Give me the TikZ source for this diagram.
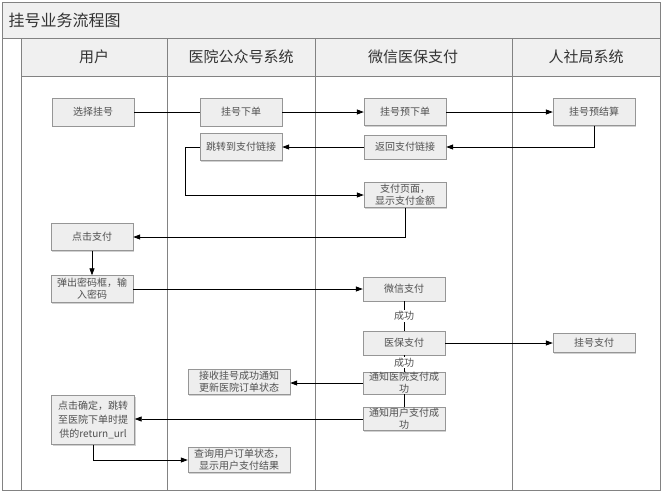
\documentclass[tikz,border=0pt]{standalone}
\usepackage{fontspec}
\setmainfont{Noto Sans CJK SC}
\usetikzlibrary{shadows,arrows.meta}
\definecolor{frame}{RGB}{130,130,130}
\definecolor{hdr}{RGB}{240,240,240}
\definecolor{boxfill}{RGB}{238,238,238}
\definecolor{boxline}{RGB}{150,150,150}
\definecolor{txt}{RGB}{80,80,80}
\tikzset{
  box/.style={draw=boxline, fill=boxfill, inner sep=0pt, text=txt, align=center,
    font=\fontsize{10}{12}\selectfont, minimum width=82pt, minimum height=25pt,
    drop shadow={shadow xshift=1.2pt, shadow yshift=-1.2pt, fill=black!30, opacity=0.6}},
  arr/.style={-{Triangle[length=7pt,width=5pt]}, line width=0.8pt},
  con/.style={line width=0.8pt},
  lbl/.style={fill=white, inner sep=1pt, text=txt, font=\fontsize{10}{12}\selectfont},
  lane/.style={draw=frame, line width=0.8pt},
  head/.style={text=black!80, font=\fontsize{15}{18}\selectfont}
}
\begin{document}
\begin{tikzpicture}[x=1pt,y=-1pt]
\useasboundingbox (0,0) rectangle (664,493);
% frame
\fill[hdr] (2,2) rectangle (660,38);
\fill[hdr] (21,38) rectangle (660,76);
\draw[lane] (2,2) rectangle (660,490);
\draw[lane] (2,38) -- (660,38);
\draw[lane] (21,76) -- (660,76);
\foreach \x in {21,167,315,512} \draw[lane] (\x,38) -- (\x,490);
\node[anchor=west, text=black!80, font=\fontsize{16}{19}\selectfont] (title) at (5,20) {挂号业务流程图};
\node[head] (h1) at (94,57) {用户};
\node[head] (h2) at (241,57) {医院公众号系统};
\node[head] (h3) at (413,57) {微信医保支付};
\node[head] (h4) at (586,57) {人社局系统};
% nodes
\node[box, minimum height=28pt] (n1) at (93,112) {选择挂号};
\node[box, minimum height=28pt] (n2) at (241,112) {挂号下单};
\node[box, minimum height=27pt] (n3) at (405,112) {挂号预下单};
\node[box, minimum height=27pt] (n4) at (594,112) {挂号预结算};
\node[box, minimum height=24pt] (n5) at (405,147) {返回支付链接};
\node[box, minimum height=27pt] (n6) at (241,147) {跳转到支付链接};
\node[box, minimum height=25pt] (n7) at (405,195) {支付页面，\\显示支付金额};
\node[box, minimum height=27pt] (n8) at (92,237) {点击支付};
\node[box, minimum height=27pt] (n9) at (92,289) {弹出密码框，输\\入密码};
\node[box, minimum height=24pt] (n10) at (404,289) {微信支付};
\node[box, minimum height=24pt] (n11) at (404,343) {医保支付};
\node[box, minimum height=19pt] (n12) at (594,343) {挂号支付};
\node[box, minimum width=102pt, minimum height=25pt] (n13) at (239,382) {接收挂号成功通知\\更新医院订单状态};
\node[box, minimum height=22pt] (n14) at (404,383) {通知医院支付成\\功};
\node[box, minimum height=23pt] (n15) at (404,419) {通知用户支付成\\功};
\node[box, minimum width=83pt, minimum height=49pt, font=\fontsize{10}{14}\selectfont] (n16) at (93,420) {点击确定，跳转\\至医院下单时提\\供的return\_url};
\node[box, minimum width=102pt, minimum height=25pt] (n17) at (239,460) {查询用户订单状态，\\显示用户支付结果};
% connectors
\draw[con] (n1) -- (n2);
\draw[arr] (n2) -- (n3);
\draw[arr] (n3) -- (n4);
\draw[arr] (n4.south) |- (n5.east);
\draw[arr] (n5) -- (n6);
\draw[arr] (n6.west) -- ++(-14,0) |- (n7.west);
\draw[arr] (n7.south) |- (n8.east);
\draw[arr] (n8) -- (n9);
\draw[arr] (n9) -- (n10);
\draw[con] (n10) -- node[lbl] {成功} (n11);
\draw[arr] (n11) -- (n12);
\draw[con] (n11) -- node[lbl, pos=0.45] {成功} (n14);
\draw[arr] (n14.west) -- (n14.west -| n13.east);
\draw[con] (n14) -- (n15);
\draw[arr] (n15.west) -- (n15.west -| n16.east);
\draw[arr] (n16.south) |- (n17.west);
\end{tikzpicture}
\end{document}
